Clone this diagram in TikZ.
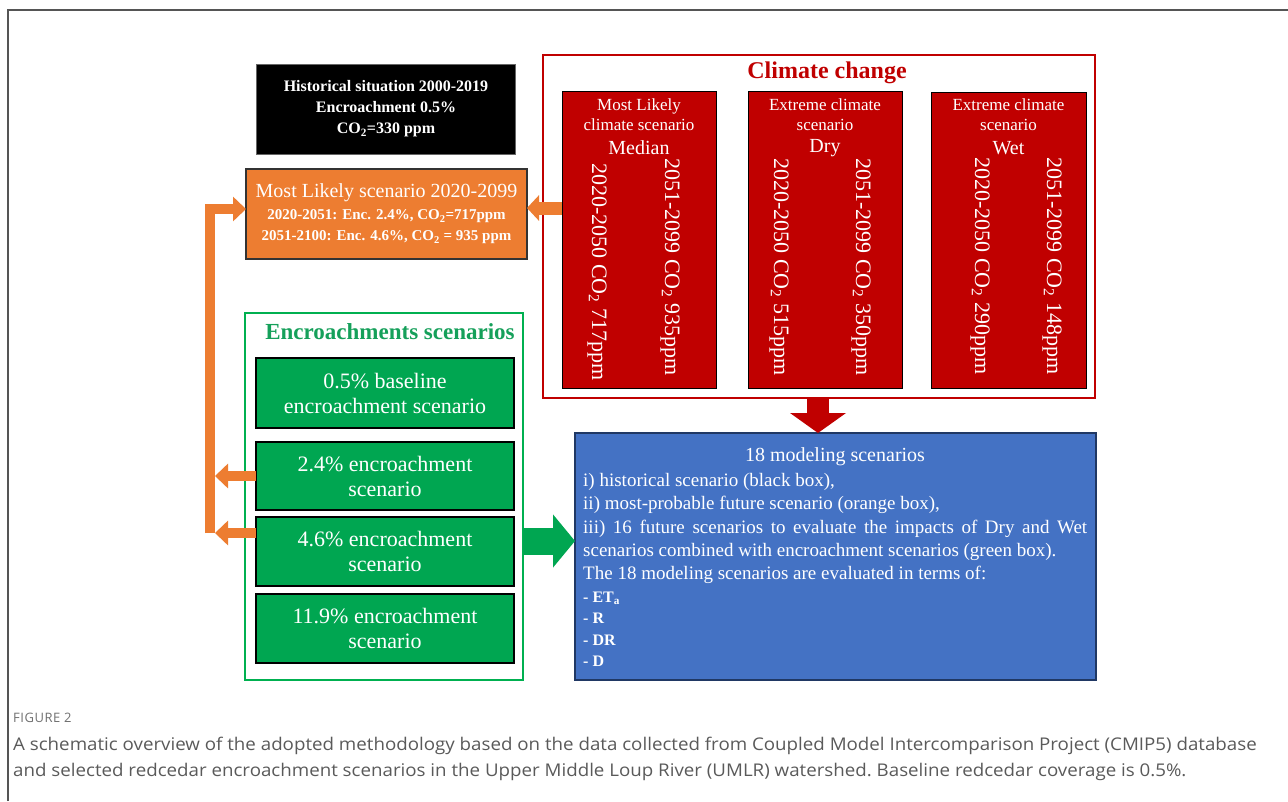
\documentclass[tikz,border=0pt]{standalone}
\usepackage{fontspec}
\setmainfont{Liberation Serif}
\newfontfamily\capfont{Open Sans}
\usetikzlibrary{arrows.meta}
\definecolor{orng}{HTML}{ED7D31}
\definecolor{cred}{HTML}{C00000}
\definecolor{cgreen}{HTML}{00A651}
\definecolor{fgreen}{HTML}{00B050}
\definecolor{tgreen}{HTML}{15A05A}
\definecolor{cblue}{HTML}{4472C4}
\definecolor{cnavy}{HTML}{203864}
\definecolor{capgray}{HTML}{5A5A5A}
\definecolor{labgray}{HTML}{707070}
\definecolor{framegray}{HTML}{555555}
\tikzset{
  box/.style={rectangle, inner sep=0pt, outer sep=0pt},
  blackbox/.style={box, fill=black, draw=black!60, line width=1pt},
  orbox/.style={box, fill=orng, draw=black!80, line width=1.5pt},
  redbox/.style={box, fill=cred, draw=black, line width=1pt},
  grbox/.style={box, fill=cgreen, draw=black, line width=1.5pt},
  bluebox/.style={box, fill=cblue, draw=cnavy, line width=2pt},
  ccframe/.style={box, draw=cred, line width=2.5pt},
  gframe/.style={box, draw=fgreen, line width=2.5pt},
  wt/.style={text=white, align=center, inner sep=0pt},
  rot/.style={text=white, rotate=-90, anchor=west, inner sep=0pt, font=\fontsize{22}{24}\selectfont},
  bl/.style={text=white, anchor=base west, inner sep=0pt, font=\fontsize{19}{23}\selectfont},
  li/.style={text=white, anchor=base west, inner sep=0pt, font=\fontsize{16}{20}\selectfont\bfseries},
  orarrow/.style={draw=orng, line width=10pt, line cap=butt, line join=miter, -{Triangle[width=24pt,length=13pt]}},
  caption/.style={anchor=base west, inner sep=0pt, text=capgray, font=\capfont\fontsize{17.5}{20}\selectfont\addfontfeatures{FakeStretch=1.07}\frenchspacing}
}
\begin{document}
\begin{tikzpicture}[x=1pt,y=-1pt]
\useasboundingbox (0,0) rectangle (1288,801);
\fill[white] (0,0) rectangle (1288,801);
\draw[framegray, line width=1.2pt] (8,801) -- (8,10) -- (1288,10);

% historical (black) box
\node[blackbox, minimum width=259pt, minimum height=90pt] (hist) at (386,109) {};
\node[wt, font=\fontsize{16}{21}\selectfont\bfseries] (histT) at (hist.center) {Historical situation 2000-2019\\Encroachment 0.5\%\\CO\textsubscript{2}=330 ppm};

% most likely (orange) box
\node[orbox, minimum width=281pt, minimum height=90pt] (ob) at (386.5,214) {};
\node[wt, font=\fontsize{20}{22}\selectfont] (obT) at (386.5,193) {Most Likely scenario 2020-2099};
\node[wt, font=\fontsize{15}{21}\selectfont\bfseries] (obS) at (386.5,227) {2020-2051: Enc. 2.4\%, CO\textsubscript{2}=717ppm\\2051-2100: Enc. 4.6\%, CO\textsubscript{2} = 935 ppm};

% climate change frame
\node[ccframe, minimum width=552pt, minimum height=343pt] (cc) at (819,226.5) {};
\node[text=cred, inner sep=0pt, font=\fontsize{24}{26}\selectfont\bfseries] (ccT) at (827,73) {Climate change};

% red scenario boxes
\node[redbox, minimum width=154pt, minimum height=297pt] (med) at (639,239.5) {};
\node[redbox, minimum width=154pt, minimum height=297pt] (dry) at (825,239.5) {};
\node[redbox, minimum width=155pt, minimum height=296pt] (wet) at (1008.5,240) {};

\node[wt, font=\fontsize{17}{20}\selectfont] (medH) at (639,115) {Most Likely\\climate scenario};
\node[wt, font=\fontsize{20}{22}\selectfont] (medN) at (639,148) {Median};
\node[wt, font=\fontsize{17}{20}\selectfont] (dryH) at (825,115) {Extreme climate\\scenario};
\node[wt, font=\fontsize{20}{22}\selectfont] (dryN) at (825,148) {Dry};
\node[wt, font=\fontsize{17}{20}\selectfont] (wetH) at (1008.5,115) {Extreme climate\\scenario};
\node[wt, font=\fontsize{20}{22}\selectfont] (wetN) at (1008.5,148) {Wet};

\node[rot] (m1) at (597,163) {2020-2050 CO\textsubscript{2} 717ppm};
\node[rot] (m2) at (670,158) {2051-2099 CO\textsubscript{2} 935ppm};
\node[rot] (d1) at (779,158) {2020-2050 CO\textsubscript{2} 515ppm};
\node[rot] (d2) at (861,158) {2051-2099 CO\textsubscript{2} 350ppm};
\node[rot] (w1) at (980,157) {2020-2050 CO\textsubscript{2} 290ppm};
\node[rot] (w2) at (1052,157) {2051-2099 CO\textsubscript{2} 148ppm};

% encroachment frame
\node[gframe, minimum width=278pt, minimum height=367pt] (enc) at (384,496.5) {};
\node[text=tgreen, inner sep=0pt, font=\fontsize{23}{25}\selectfont\bfseries] (encT) at (390,332) {Encroachments scenarios};
\node[grbox, minimum width=258pt, minimum height=70pt] (g1) at (385,393) {};
\node[grbox, minimum width=258pt, minimum height=68pt] (g2) at (385,476) {};
\node[grbox, minimum width=258pt, minimum height=69pt] (g3) at (385,551.5) {};
\node[grbox, minimum width=258pt, minimum height=69pt] (g4) at (385,628.5) {};
\node[wt, font=\fontsize{22}{25}\selectfont] (g1T) at (g1.center) {0.5\% baseline\\encroachment scenario};
\node[wt, font=\fontsize{22}{25}\selectfont] (g2T) at (g2.center) {2.4\% encroachment\\scenario};
\node[wt, font=\fontsize{22}{25}\selectfont] (g3T) at (g3.center) {4.6\% encroachment\\scenario};
\node[wt, font=\fontsize{22}{25}\selectfont] (g4T) at (g4.center) {11.9\% encroachment\\scenario};

% modeling (blue) box
\node[bluebox, minimum width=521pt, minimum height=247pt] (blue) at (835.5,556.5) {};
\node[wt, font=\fontsize{20}{22}\selectfont] (blueT) at (835,457) {18 modeling scenarios};
\node[bl] (b1) at (583,486) {i) historical scenario (black box),};
\node[bl] (b2) at (583,509) {ii) most-probable future scenario (orange box),};
\node[bl] (b3) at (583,533) {\makebox[504pt][s]{iii) 16 future scenarios to evaluate the impacts of Dry and Wet}};
\node[bl] (b4) at (583,556) {scenarios combined with encroachment scenarios (green box).};
\node[bl] (b5) at (583,579) {The 18 modeling scenarios are evaluated in terms of:};
\node[li] (l1) at (583,602) {- ET\textsubscript{a}};
\node[li] (l2) at (583,623) {- R};
\node[li] (l3) at (583,645) {- DR};
\node[li] (l4) at (583,666) {- D};

% connectors
\coordinate (barT) at (210,209);
\coordinate (barB) at (210,533);
\coordinate (t2) at (215,476);
\coordinate (t3) at (215,533);
\draw[orarrow] (barB) -- (barT) -- (ob.west |- barT);
\draw[orarrow] (g2.west |- t2) -- (t2);
\draw[orarrow] (g3.west |- t3) -- (t3);
\coordinate (oa) at (0,208);
\draw[draw=orng, line width=13pt, -{Triangle[width=25pt,length=12pt]}] (med.west |- oa) -- (ob.east |- oa);
\coordinate (ga) at (0,541);
\draw[draw=cgreen, line width=27pt, -{Triangle[width=52pt,length=22pt]}] (enc.east |- ga) -- (blue.west |- ga);
\coordinate (ra) at (818,0);
\draw[draw=cred, line width=22pt, -{Triangle[width=55pt,length=20pt]}] (cc.south -| ra) -- (blue.north -| ra);

% caption
\node[anchor=base west, inner sep=0pt, text=labgray, font=\capfont\fontsize{13}{15}\selectfont\addfontfeatures{LetterSpace=4}] (figlab) at (13,722) {FIGURE 2};
\node[caption] (cap1) at (13,750) {A schematic overview of the adopted methodology based on the data collected from Coupled Model Intercomparison Project (CMIP5) database};
\node[caption] (cap2) at (13,776) {and selected redcedar encroachment scenarios in the Upper Middle Loup River (UMLR) watershed. Baseline redcedar coverage is 0.5\%.};
\end{tikzpicture}
\end{document}
